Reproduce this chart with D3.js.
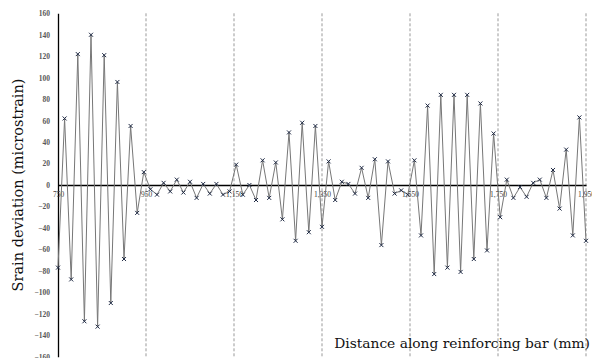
<!DOCTYPE html>
<html>
<head>
<meta charset="UTF-8">
<script src="https://d3js.org/d3.v7.min.js"></script>
<style>
  body { margin: 0; background: #fff; }
  svg { display: block; }
</style>
</head>
<body>
<div id="chart"></div>
<script>
// distance along bar (mm), one reading every 15 mm
const distances = d3.range(0, 81).map(i => 750 + i * 15);
// strain deviation (microstrain)
const strain = [
  -77, 62, -88, 122, -127, 140, -132, 121, -110, 96,
  -69, 55, -26, 12, -4, -9, 2, -6, 5, -7,
  3, -12, 1, -8, 1, -9, -6, 19, -9, 0,
  -14, 23, -12, 21, -32, 49, -52, 58, -44, 55,
  -39, 22, -14, 3, 1, -8, 16, -12, 24, -56,
  22, -8, -5, -9, 23, -47, 74, -83, 84, -77,
  84, -81, 84, -69, 76, -61, 48, -30, 5, -12,
  -2, -11, 2, 5, -12, 14, -22, 33, -47, 63,
  -52
];
const xTicks = [750, 950, 1150, 1350, 1550, 1750, 1950];
const yTicks = d3.range(-160, 161, 20);

const W = 592, H = 358;
const svg = d3.select("#chart").append("svg").attr("width", W).attr("height", H);

const x = d3.scaleLinear().domain([750, 1950]).range([58, 586]);
const y = d3.scaleLinear().domain([-160, 160]).range([356.7, 13.3]);

// dashed vertical gridlines
svg.append("g").selectAll("line")
  .data(xTicks.slice(1))
  .join("line")
  .attr("x1", d => x(d)).attr("x2", d => x(d))
  .attr("y1", y(160)).attr("y2", y(-160))
  .attr("stroke", "#999").attr("stroke-width", 1)
  .attr("stroke-dasharray", "3,2");

// y axis
const yAxis = svg.append("g")
  .attr("transform", `translate(${x(750)},0)`)
  .call(d3.axisLeft(y).tickValues(yTicks).tickSize(0).tickPadding(8));
yAxis.select(".domain").attr("stroke", "#000").attr("stroke-width", 1.3);
yAxis.selectAll("text")
  .attr("font-family", "'Liberation Serif', serif")
  .attr("font-weight", "bold")
  .attr("font-size", 7.5)
  .attr("fill", "#595959");

// zero line with x labels
const xAxis = svg.append("g")
  .attr("transform", `translate(0,${y(0)})`)
  .call(d3.axisBottom(x).tickValues(xTicks).tickSize(0).tickPadding(7));
xAxis.select(".domain").attr("stroke", "#000").attr("stroke-width", 1.3);
xAxis.selectAll("text")
  .attr("font-family", "'Liberation Serif', serif")
  .attr("font-size", 7.5)
  .attr("fill", "#404040");

const pts = distances.map((d, i) => ({ d, v: strain[i] }));

// data line
svg.append("path")
  .datum(pts)
  .attr("fill", "none")
  .attr("stroke", "#777")
  .attr("stroke-width", 1)
  .attr("d", d3.line().x(p => x(p.d)).y(p => y(p.v)));

// x markers
const s = 2;
svg.append("g").selectAll("path")
  .data(pts)
  .join("path")
  .attr("d", p => {
    const cx = x(p.d), cy = y(p.v);
    return `M${cx - s},${cy - s}L${cx + s},${cy + s}M${cx - s},${cy + s}L${cx + s},${cy - s}`;
  })
  .attr("stroke", "#1f2a44")
  .attr("stroke-width", 1);

// axis titles
svg.append("text")
  .attr("transform", `translate(23,${y(0)}) rotate(-90)`)
  .attr("text-anchor", "middle")
  .attr("font-family", "'DejaVu Serif', serif")
  .attr("font-size", 14.5)
  .attr("fill", "#111")
  .text("Srain deviation (microstrain)");

svg.append("text")
  .attr("x", 590)
  .attr("y", 348)
  .attr("text-anchor", "end")
  .attr("font-family", "'DejaVu Serif', serif")
  .attr("font-size", 13.8)
  .attr("fill", "#111")
  .text("Distance along reinforcing bar (mm)");
</script>
</body>
</html>
